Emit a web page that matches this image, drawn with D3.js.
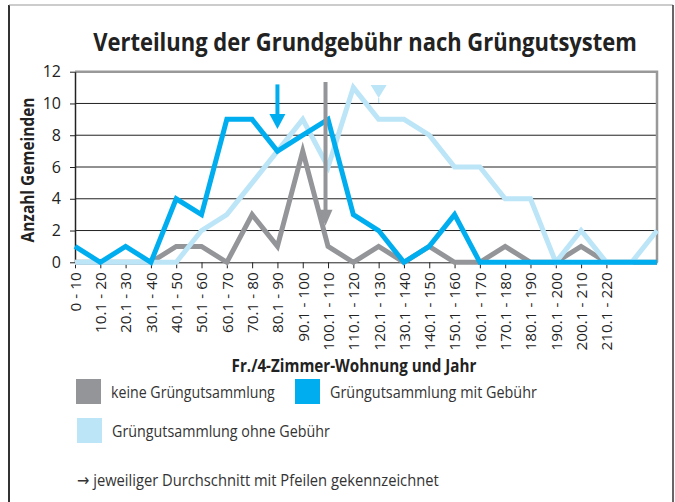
<!DOCTYPE html>
<html>
<head>
<meta charset="utf-8">
<script src="https://cdn.jsdelivr.net/npm/d3@7"></script>
<style>
  body { margin: 0; background: #fff; }
  svg { display: block; font-family: "Open Sans", "Noto Sans", sans-serif; }
</style>
</head>
<body>
<svg id="chart" width="675" height="502"></svg>
<script>
const W = 675, H = 502;
const M = {t: 71.7, r: 18, b: 239.7, l: 75};

// data
const categories = ["0 - 10","10.1 - 20","20.1 - 30","30.1 - 40","40.1 - 50","50.1 - 60",
  "60.1 - 70","70.1 - 80","80.1 - 90","90.1 - 100","100.1 - 110","110.1 - 120",
  "120.1 - 130","130.1 - 140","140.1 - 150","150.1 - 160","160.1 - 170","170.1 - 180",
  "180.1 - 190","190.1 - 200","200.1 - 210","210.1 - 220","",""];
const keine = [0,0,0,0,1,1,0,3,1,7,1,0,1,0,1,0,0,1,0,0,1,0,0,0];
const mitGebuehr = [1,0,1,0,4,3,9,9,7,8,9,3,2,0,1,3,0,0,0,0,0,0,0,0];
const ohneGebuehr = [0,0,0,0,0,2,3,5,7,9,6,11,9,9,8,6,6,4,4,0,2,0,0,2];
const yTicks = [0,2,4,6,8,10,12];

const seriesNames = ["keine Grüngutsammlung","Grüngutsammlung mit Gebühr","Grüngutsammlung ohne Gebühr"];
const colors = ["#939598","#00aeef","#bce5f8"];

// average arrows: category position (index), top and tip in y units
const arrowKeys = ["keine","mit","ohne"];
const arrowX = [9.9, 8.0, 12.0];
const arrowTop = [11.35, 11.2, 11.17];
const arrowTip = [2.3, 8.4, 10.35];

const svg = d3.select("#chart");
const innerW = W - M.l - M.r, innerH = H - M.t - M.b;

// squeeze a text horizontally to a target width (condensed look)
function squeeze(sel, tx, ty, w, rot) {
  const n = sel.node().getComputedTextLength();
  const k = w / n;
  sel.attr("transform", `translate(${tx},${ty})${rot ? " rotate(" + rot + ")" : ""} scale(${k},1)`);
}

// outer frame
svg.append("line").attr("x1", 9).attr("x2", 9).attr("y1", 5).attr("y2", H)
  .attr("stroke", "#333").attr("stroke-width", 2);
svg.append("line").attr("x1", 9).attr("x2", 673).attr("y1", 5).attr("y2", 5)
  .attr("stroke", "#999").attr("stroke-width", 1.2);
svg.append("line").attr("x1", 673).attr("x2", 673).attr("y1", 5).attr("y2", H)
  .attr("stroke", "#333").attr("stroke-width", 1.5);

// title
svg.append("text")
  .attr("text-anchor", "middle")
  .attr("font-weight", "bold").attr("font-size", 25).attr("fill", "#222")
  .text("Verteilung der Grundgebühr nach Grüngutsystem")
  .call(squeeze, 365, 51, 544);

const g = svg.append("g").attr("transform", `translate(${M.l},${M.t})`);

const x = d3.scaleLinear().domain([0, categories.length - 1]).range([0, innerW]);
const y = d3.scaleLinear().domain([0, 12]).range([innerH, 0]);

// grid
g.selectAll(".grid").data(yTicks.filter(d => d > 0 && d < 12))
  .join("line").attr("class", "grid")
  .attr("x1", 0).attr("x2", innerW)
  .attr("y1", d => y(d)).attr("y2", d => y(d))
  .attr("stroke", "#222").attr("stroke-width", 1);

// plot border (top + right)
g.append("path")
  .attr("d", `M0,${y(12)}H${innerW}V${innerH}`)
  .attr("fill", "none").attr("stroke", "#999").attr("stroke-width", 2.5);

// y axis
const yAxis = g.append("g")
  .call(d3.axisLeft(y).tickValues(yTicks).tickSize(5).tickPadding(9).tickSizeOuter(0));
yAxis.select(".domain").attr("stroke", "#222").attr("stroke-width", 1.5);
yAxis.selectAll(".tick line").attr("stroke", "#222");
yAxis.selectAll("text").attr("font-size", 16).attr("fill", "#222")
  .attr("font-family", "'Open Sans', sans-serif");

// x axis
const xAxis = g.append("g").attr("transform", `translate(0,${innerH})`)
  .call(d3.axisBottom(x).tickValues(d3.range(categories.length - 2))
    .tickFormat(i => categories[i]).tickSize(6).tickSizeOuter(0));
xAxis.select(".domain").attr("stroke", "#222");
xAxis.selectAll(".tick line").attr("stroke", "#222");
xAxis.selectAll("text")
  .attr("transform", "rotate(-90)")
  .attr("text-anchor", "end")
  .attr("x", -10).attr("y", 0).attr("dy", "0.35em")
  .attr("font-size", 15.3).attr("fill", "#222")
  .attr("font-family", "'Open Sans', sans-serif");

// axis titles
svg.append("text")
  .attr("text-anchor", "middle")
  .attr("font-weight", "bold").attr("font-size", 17).attr("fill", "#222")
  .text("Anzahl Gemeinden")
  .call(squeeze, 34, 170, 145, -90);

svg.append("text")
  .attr("text-anchor", "middle")
  .attr("font-weight", "bold").attr("font-size", 17).attr("fill", "#222")
  .text("Fr./4-Zimmer-Wohnung und Jahr")
  .call(squeeze, 354, 372, 245);

// lines: gray, light blue, dark blue (dark on top)
const line = d3.line().x((d, i) => x(i)).y(d => y(d));
const drawOrder = [
  {vals: keine, c: colors[0]},
  {vals: ohneGebuehr, c: colors[2]},
  {vals: mitGebuehr, c: colors[1]}
];
g.selectAll(".series").data(drawOrder)
  .join("path").attr("class", "series")
  .attr("d", d => line(d.vals))
  .attr("fill", "none")
  .attr("stroke", d => d.c)
  .attr("stroke-width", 5)
  .attr("stroke-linejoin", "miter")
  .attr("stroke-miterlimit", 10);

// arrows marking averages
arrowKeys.forEach((k, i) => {
  const cx = x(arrowX[i]);
  const c = colors[i];
  if (k === "ohne") {
    // only an arrow head with a short stem
    const yt = y(arrowTop[i]), yb = y(arrowTip[i]);
    g.append("path")
      .attr("d", `M${cx - 8},${yt}L${cx + 8},${yt}L${cx},${yb}Z`)
      .attr("fill", c);
    g.append("line").attr("x1", cx).attr("x2", cx)
      .attr("y1", yb).attr("y2", yb + 5)
      .attr("stroke", c).attr("stroke-width", 1.2);
    return;
  }
  const half = k === "mit" ? 8 : 7;
  const headLen = k === "mit" ? 15 : 16;
  const yt = y(arrowTop[i]), ytip = y(arrowTip[i]);
  g.append("line").attr("x1", cx).attr("x2", cx)
    .attr("y1", yt).attr("y2", ytip - headLen + 1)
    .attr("stroke", c).attr("stroke-width", 4);
  g.append("path")
    .attr("d", `M${cx - half},${ytip - headLen}L${cx + half},${ytip - headLen}L${cx},${ytip}Z`)
    .attr("fill", c);
});

// legend
const legendX = [76, 295, 77];
const legendY = [379, 379, 418];
const legendW = [164, 207, 218];
const leg = svg.selectAll(".leg").data(seriesNames)
  .join("g").attr("class", "leg")
  .attr("transform", (d, i) => `translate(${legendX[i]},${legendY[i]})`);
leg.append("rect").attr("width", 25).attr("height", 25)
  .attr("fill", (d, i) => colors[i]);
leg.append("text")
  .attr("font-size", 17).attr("fill", "#333")
  .text(d => d)
  .each(function(d, i) { d3.select(this).call(squeeze, 35, 19, legendW[i]); });

const note = svg.append("text")
  .attr("font-size", 17).attr("fill", "#333");
note.append("tspan").attr("font-family", "'DejaVu Sans', sans-serif").text("→");
note.append("tspan").text(" jeweiliger Durchschnitt mit Pfeilen gekennzeichnet");
note.call(squeeze, 77, 486, 362);
</script>
</body>
</html>
